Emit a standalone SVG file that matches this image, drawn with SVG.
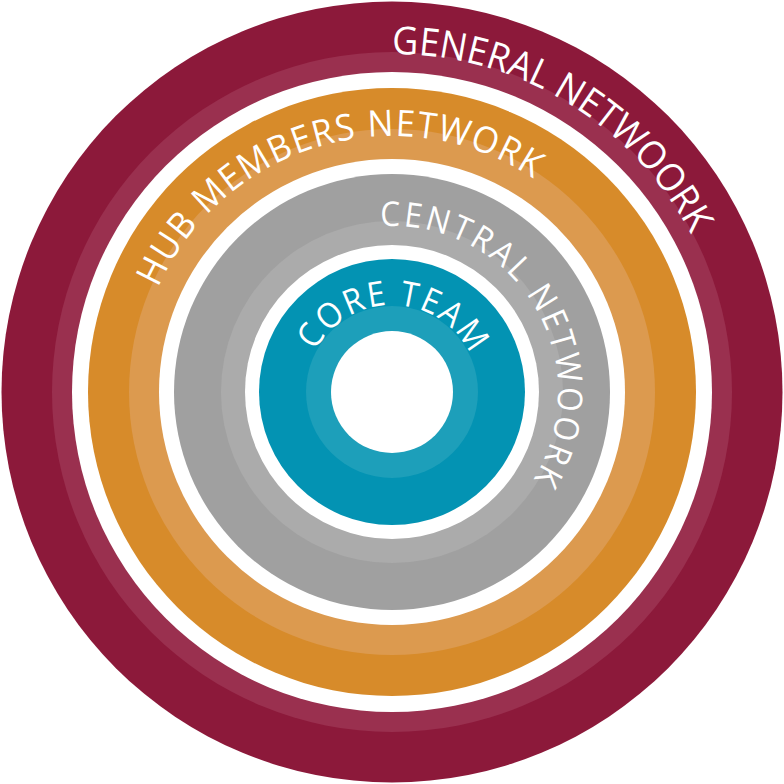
<svg xmlns="http://www.w3.org/2000/svg" xmlns:xlink="http://www.w3.org/1999/xlink" width="784" height="784" viewBox="0 0 784 784">
<style>
.lbl{fill:#ffffff;font-family:"Open Sans","Liberation Sans",sans-serif;font-weight:400}
.gap{fill:#ffffff}
</style>
<defs>
<path id="pGeneral" d="M392,54 A338,338 0 0 1 724.9,450.7"/>
<path id="pHub" d="M158.1,287.9 A256,256 0 0 1 613.7,264"/>
<path id="pCentral" d="M380.4,226.4 A166,166 0 0 1 475,535.8"/>
<path id="pCore" d="M315.2,351.2 A87,87 0 0 1 479,392"/>
</defs>
<rect width="784" height="784" fill="#ffffff"/>
<g id="general-network">
<circle cx="392" cy="392" r="390.5" fill="#8C193A"/>
<circle cx="392" cy="392" r="340" fill="#9A304F"/>
<circle class="gap" cx="392" cy="392" r="320"/>
<text class="lbl" font-size="38.5"><textPath xlink:href="#pGeneral" href="#pGeneral" textLength="367" lengthAdjust="spacingAndGlyphs">GENERAL NETWOORK</textPath></text>
</g>
<g id="hub-members-network">
<circle cx="392" cy="392" r="304" fill="#D78B2A"/>
<circle cx="392" cy="392" r="263" fill="#DC9A4F"/>
<circle class="gap" cx="392" cy="392" r="233"/>
<text class="lbl" font-size="36.5" letter-spacing="1.6"><textPath xlink:href="#pHub" href="#pHub" textLength="446" lengthAdjust="spacingAndGlyphs">HUB MEMBERS NETWORK</textPath></text>
</g>
<g id="central-network">
<circle cx="392" cy="392" r="218" fill="#A0A0A0"/>
<circle cx="392" cy="392" r="171" fill="#ABABAB"/>
<circle class="gap" cx="392" cy="392" r="147"/>
<text class="lbl" font-size="34" letter-spacing="3.2"><textPath xlink:href="#pCentral" href="#pCentral" textLength="367" lengthAdjust="spacingAndGlyphs">CENTRAL NETWOORK</textPath></text>
</g>
<g id="core-team">
<circle cx="392" cy="392" r="133" fill="#0393B3"/>
<circle cx="392" cy="392" r="86" fill="#1D9FBA"/>
<circle class="gap" cx="392" cy="392" r="61"/>
<text class="lbl" font-size="34.5" letter-spacing="2.1"><textPath xlink:href="#pCore" href="#pCore" textLength="193" lengthAdjust="spacingAndGlyphs">CORE TEAM</textPath></text>
</g>
</svg>
